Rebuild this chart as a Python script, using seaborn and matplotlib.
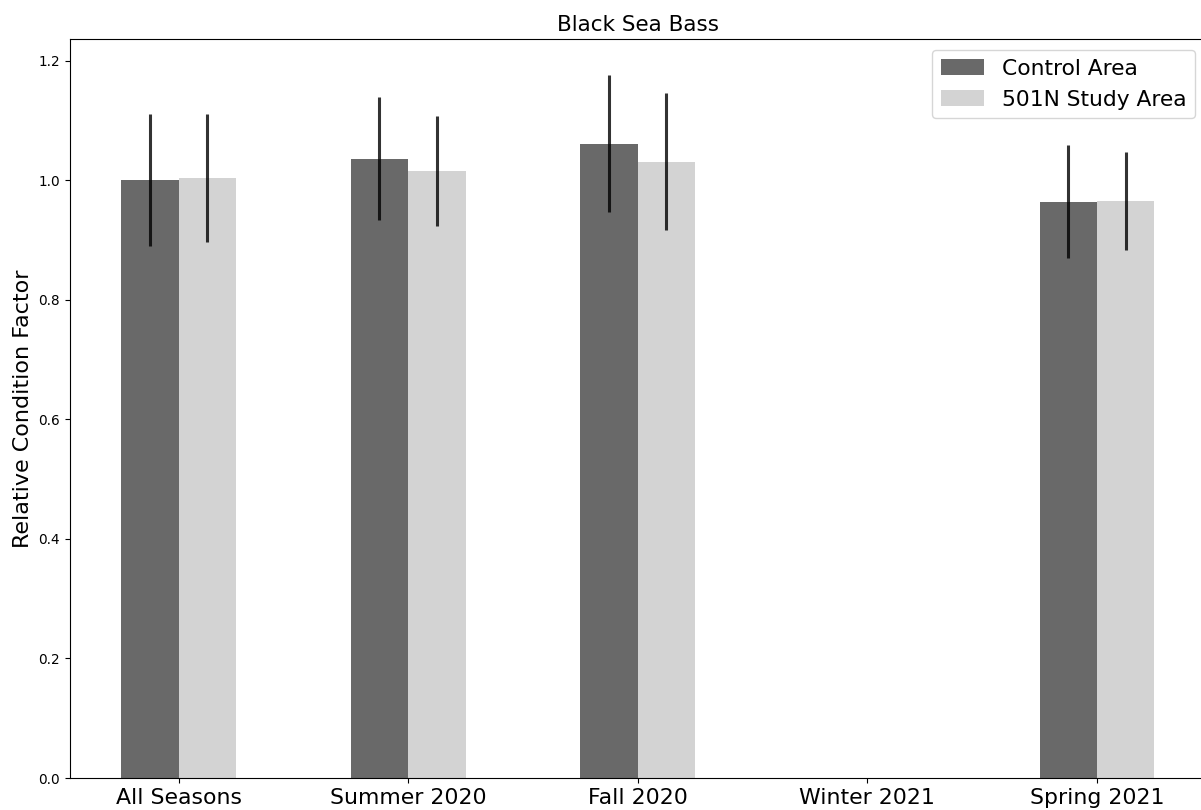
import numpy as np
import pandas as pd
import matplotlib
matplotlib.use("Agg")
import matplotlib.pyplot as plt
import seaborn as sns

seasons = ["All Seasons", "Summer 2020", "Fall 2020", "Winter 2021", "Spring 2021"]
areas = ["Control Area", "501N Study Area"]
control_vals = [1.000, 1.036, 1.061, np.nan, 0.964]
control_err = [0.110, 0.103, 0.115, np.nan, 0.095]
study_vals = [1.004, 1.015, 1.031, np.nan, 0.965]
study_err = [0.107, 0.092, 0.115, np.nan, 0.082]

df = pd.DataFrame({
    "Season": seasons * 2,
    "Area": [areas[0]] * 5 + [areas[1]] * 5,
    "Value": control_vals + study_vals,
    "Err": control_err + study_err,
})

fig = plt.figure(figsize=(12.01, 8.10), dpi=100)
ax = fig.add_axes([69.5 / 1201, 1 - 778 / 810, 1136.5 / 1201, (778 - 39) / 810])

palette = {areas[0]: "#696969", areas[1]: "#d3d3d3"}
sns.barplot(data=df.dropna(), x="Season", y="Value", hue="Area", order=seasons,
            hue_order=areas, palette=palette, saturation=1, width=0.5,
            errorbar=None, ax=ax, linewidth=0)

# error bars at the bar centers placed by seaborn
for cont, area in zip(ax.containers, areas):
    sub = df[df["Area"] == area].dropna().set_index("Season")
    present = [s for s in seasons if s in sub.index]
    for patch, s in zip(cont.patches, present):
        xc = patch.get_x() + patch.get_width() / 2
        ax.errorbar(xc, sub.loc[s, "Value"], yerr=sub.loc[s, "Err"], fmt="none",
                    ecolor="black", alpha=0.8, elinewidth=2.2, capsize=0)

ax.set_xlim(-0.475, 4.475)
ax.set_ylim(0, 1.236)
ax.set_xlabel("")
ax.set_ylabel("Relative Condition Factor", fontsize=16)
ax.set_title("Black Sea Bass", fontsize=15.5)
ax.tick_params(axis="x", labelsize=15.8)
ax.tick_params(axis="y", labelsize=9.8)
ax.legend(loc="upper right", fontsize=15.7)

fig.savefig("out.png", dpi=100)
